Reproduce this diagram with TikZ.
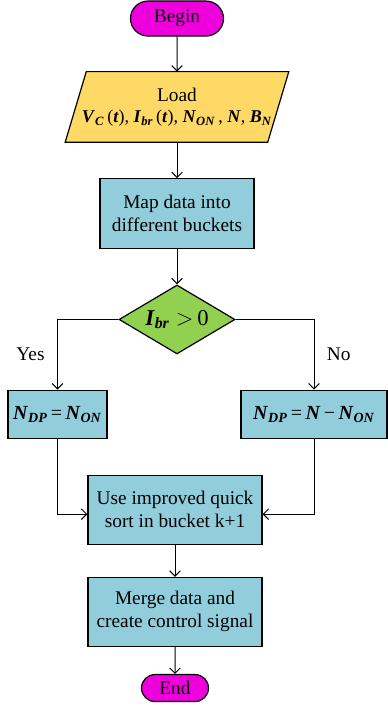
\documentclass[tikz,border=0pt]{standalone}
\usepackage{fontspec}
\setmainfont{Liberation Serif}
\newfontfamily\timesfont{Liberation Serif}
\usetikzlibrary{shapes, arrows.meta, positioning, backgrounds}

\definecolor{beginmag}{RGB}{238,0,221}
\definecolor{loadyellow}{RGB}{255,217,102}
\definecolor{boxblue}{RGB}{146,205,220}
\definecolor{decgreen}{RGB}{146,208,80}

\newcommand{\bi}[1]{\textbf{\textit{#1}}}
\newcommand{\bsub}[1]{\textsubscript{\bi{#1}}}

\begin{document}
\begin{tikzpicture} [
    node distance=26.25pt,
    terminal/.style={rounded rectangle, draw=black, line width=0.9pt, fill=beginmag, inner sep=0pt, font=\timesfont\fontsize{14.5}{17}\selectfont, text centered},
    io/.style={rectangle, minimum width=151.5pt, minimum height=52.5pt, inner sep=0pt, font=\timesfont\fontsize{14.5}{17}\selectfont, align=center},
    process/.style={rectangle, draw=black, line width=0.9pt, fill=boxblue, minimum width=130.5pt, minimum height=51.75pt, inner sep=0pt, font=\timesfont\fontsize{14.5}{17.25}\selectfont, align=center},
    decision/.style={diamond, draw=black, line width=0.9pt, fill=decgreen, minimum width=87pt, minimum height=51.75pt, inner sep=0pt, aspect=1.68, font=\timesfont\fontsize{17}{20}\selectfont},
    label/.style={font=\timesfont\fontsize{14.5}{17}\selectfont},
    arrow/.style={-{Straight Barb[length=4pt,width=8pt]}, line width=0.75pt}
]

\useasboundingbox (0,0) rectangle (290.25pt,-529.5pt);

% Define all nodes first (foreground)
\node[terminal, minimum width=69.75pt, minimum height=26.25pt] (begin) at (132.75pt,-13.9pt) {Begin};
\node[io, below=26.25pt of begin] (load) {Load\\[-1pt]{\fontsize{13.5}{16}\selectfont\bi{V}\bsub{C}\,(\bi{t}), \bi{I}\bsub{br}\,(\bi{t}), \bi{N}\bsub{ON}\,, \bi{N}, \bi{B}\bsub{N}}};
\node[process, minimum width=115.5pt, minimum height=52.5pt, below=27pt of load] (map) {Map data into\\different buckets};
\node[decision, below=26.25pt of map] (check) {\bi{I}\bsub{br}\;$>$\,0};
\node[process, minimum width=74.25pt, minimum height=36pt, below=26.25pt of check, xshift=-89.6pt, font=\timesfont\fontsize{15}{18}\selectfont] (yesbox) {\bi{N}\bsub{DP}\,=\,\bi{N}\bsub{ON}};
\node[process, minimum width=109.5pt, minimum height=36pt, below=26.25pt of check, xshift=102.75pt, font=\timesfont\fontsize{15}{18}\selectfont] (nobox) {\bi{N}\bsub{DP}\,=\,\bi{N}\,−\,\bi{N}\bsub{ON}};
\node[process, below=90pt of check, xshift=-1.5pt] (sort) {Use improved quick\\sort in bucket k+1};
\node[process, below=24pt of sort] (merge) {Merge data and\\create control signal};
\node[terminal, minimum width=50.25pt, minimum height=20.25pt, below=20.25pt of merge] (end) {End};

% Draw all arrows in background
\begin{scope}[on background layer]
    \draw[line width=0.9pt, fill=loadyellow] ([xshift=-7.9pt]load.south west) -- ([xshift=7.9pt]load.north west) -- ([xshift=7.9pt]load.north east) -- ([xshift=-7.9pt]load.south east) -- cycle;
    \draw[arrow] (begin) -- (load);
    \draw[arrow] (load) -- (map);
    \draw[arrow] (map) -- (check);
    \draw[arrow] (check.west) -| node[label, pos=0.75, left=6pt] {Yes} (yesbox.north);
    \draw[arrow] (check.east) -| node[label, pos=0.75, right=6pt] {No} (nobox.north);
    \draw[arrow] (yesbox.south) |- ([yshift=-3.4pt]sort.west);
    \draw[arrow] (nobox.south) |- ([yshift=-3.4pt]sort.east);
    \draw[arrow] (sort) -- (merge);
    \draw[arrow] (merge) -- (end);
\end{scope}

\end{tikzpicture}
\end{document}
